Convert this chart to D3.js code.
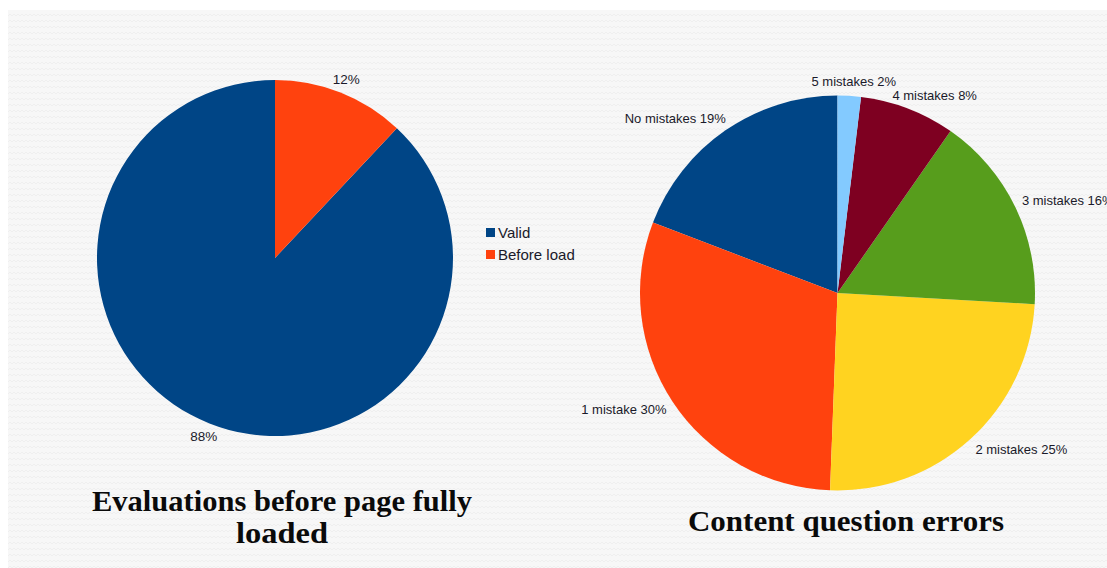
<!DOCTYPE html>
<html>
<head>
<meta charset="utf-8">
<script src="https://cdn.jsdelivr.net/npm/d3@7"></script>
<style>
  html, body { margin: 0; padding: 0; background: #ffffff; }
  svg { display: block; }
</style>
</head>
<body>
<svg id="chart" width="1107" height="568"></svg>
<script>
// ---- Data ----
const loadCategories = ["Valid", "Before load"];
const loadValues = [88, 12];
const loadColors = ["#004586", "#ff420e"];

const errorCategories = ["No mistakes", "1 mistake", "2 mistakes", "3 mistakes", "4 mistakes", "5 mistakes"];
const errorValues = [19.2, 30.2, 24.7, 16.2, 7.8, 1.9];
const errorColors = ["#004586", "#ff420e", "#ffd320", "#579d1c", "#7e0021", "#83caff"];

const titles = [["Evaluations before page fully", "loaded"], ["Content question errors"]];

// ---- Drawing ----
const svg = d3.select("#chart");
const W = 1107, H = 568;

// textured panel background
const defs = svg.append("defs");
const pat = defs.append("pattern").attr("id", "zig").attr("patternUnits", "userSpaceOnUse")
  .attr("width", 8).attr("height", 6);
pat.append("rect").attr("width", 8).attr("height", 6).attr("fill", "#f7f7f7");
pat.append("path").attr("d", "M0,4 L2,2 L4,4 L6,2 L8,4").attr("fill", "none")
  .attr("stroke", "#efefef").attr("stroke-width", 1);
svg.append("rect").attr("x", 8).attr("y", 10).attr("width", W - 8).attr("height", H - 10)
  .attr("fill", "url(#zig)");

const labelFont = "'Liberation Sans', Arial, sans-serif";

function drawPie(cx, cy, r, values, colors, labelText, fontSize, factor) {
  const pie = d3.pie().sort(null).startAngle(0).endAngle(-2 * Math.PI);
  const arcs = pie(values);
  const arc = d3.arc().innerRadius(0).outerRadius(r);
  const g = svg.append("g").attr("transform", `translate(${cx},${cy})`);
  g.selectAll("path").data(arcs).join("path")
    .attr("d", arc)
    .attr("fill", (d, i) => colors[i]);

  const lr = r + 7.5;
  arcs.forEach((d, i) => {
    const a = (d.startAngle + d.endAngle) / 2;
    const px = lr * Math.sin(a), py = -lr * Math.cos(a);
    const t = g.append("text")
      .attr("font-family", labelFont)
      .attr("font-size", fontSize)
      .attr("fill", "#1a1a2a")
      .attr("dominant-baseline", "central")
      .text(labelText(d, i));
    const w = t.node().getComputedTextLength();
    const s = Math.max(-1, Math.min(1, Math.sin(a) * factor));
    const left = px - w / 2 + (w / 2) * s;
    const yc = py - 6.5 * Math.cos(a);
    t.attr("x", left).attr("y", yc);
  });
  return g;
}

// Left pie
drawPie(275, 258, 178, loadValues, loadColors, (d) => Math.round(d.value) + "%", 13.5, 0.6);

// Legend
const legend = svg.append("g").attr("transform", "translate(486,228)");
loadCategories.forEach((c, i) => {
  legend.append("rect").attr("x", 0).attr("y", i * 22).attr("width", 9).attr("height", 9)
    .attr("fill", loadColors[i]);
  legend.append("text").attr("x", 12).attr("y", i * 22 + 10)
    .attr("font-family", labelFont).attr("font-size", 15).attr("fill", "#1a1a2a")
    .text(c);
});

// Right pie
drawPie(837.5, 293, 197.5, errorValues, errorColors,
  (d, i) => errorCategories[i] + " " + Math.round(d.value) + "%", 13, 1.6);

// Titles
const titleFont = "'Liberation Serif', 'DejaVu Serif', serif";
function title(lines, cx, baselines, widths) {
  lines.forEach((ln, i) => {
    svg.append("text")
      .attr("x", cx).attr("y", baselines[i])
      .attr("text-anchor", "middle")
      .attr("font-family", titleFont)
      .attr("font-weight", "bold")
      .attr("font-size", 30)
      .attr("fill", "#0a0a0a")
      .attr("textLength", widths[i])
      .attr("lengthAdjust", "spacingAndGlyphs")
      .text(ln);
  });
}
title(titles[0], 282, [511, 543], [380, 92]);
title(titles[1], 846, [531], [316]);
</script>
</body>
</html>
